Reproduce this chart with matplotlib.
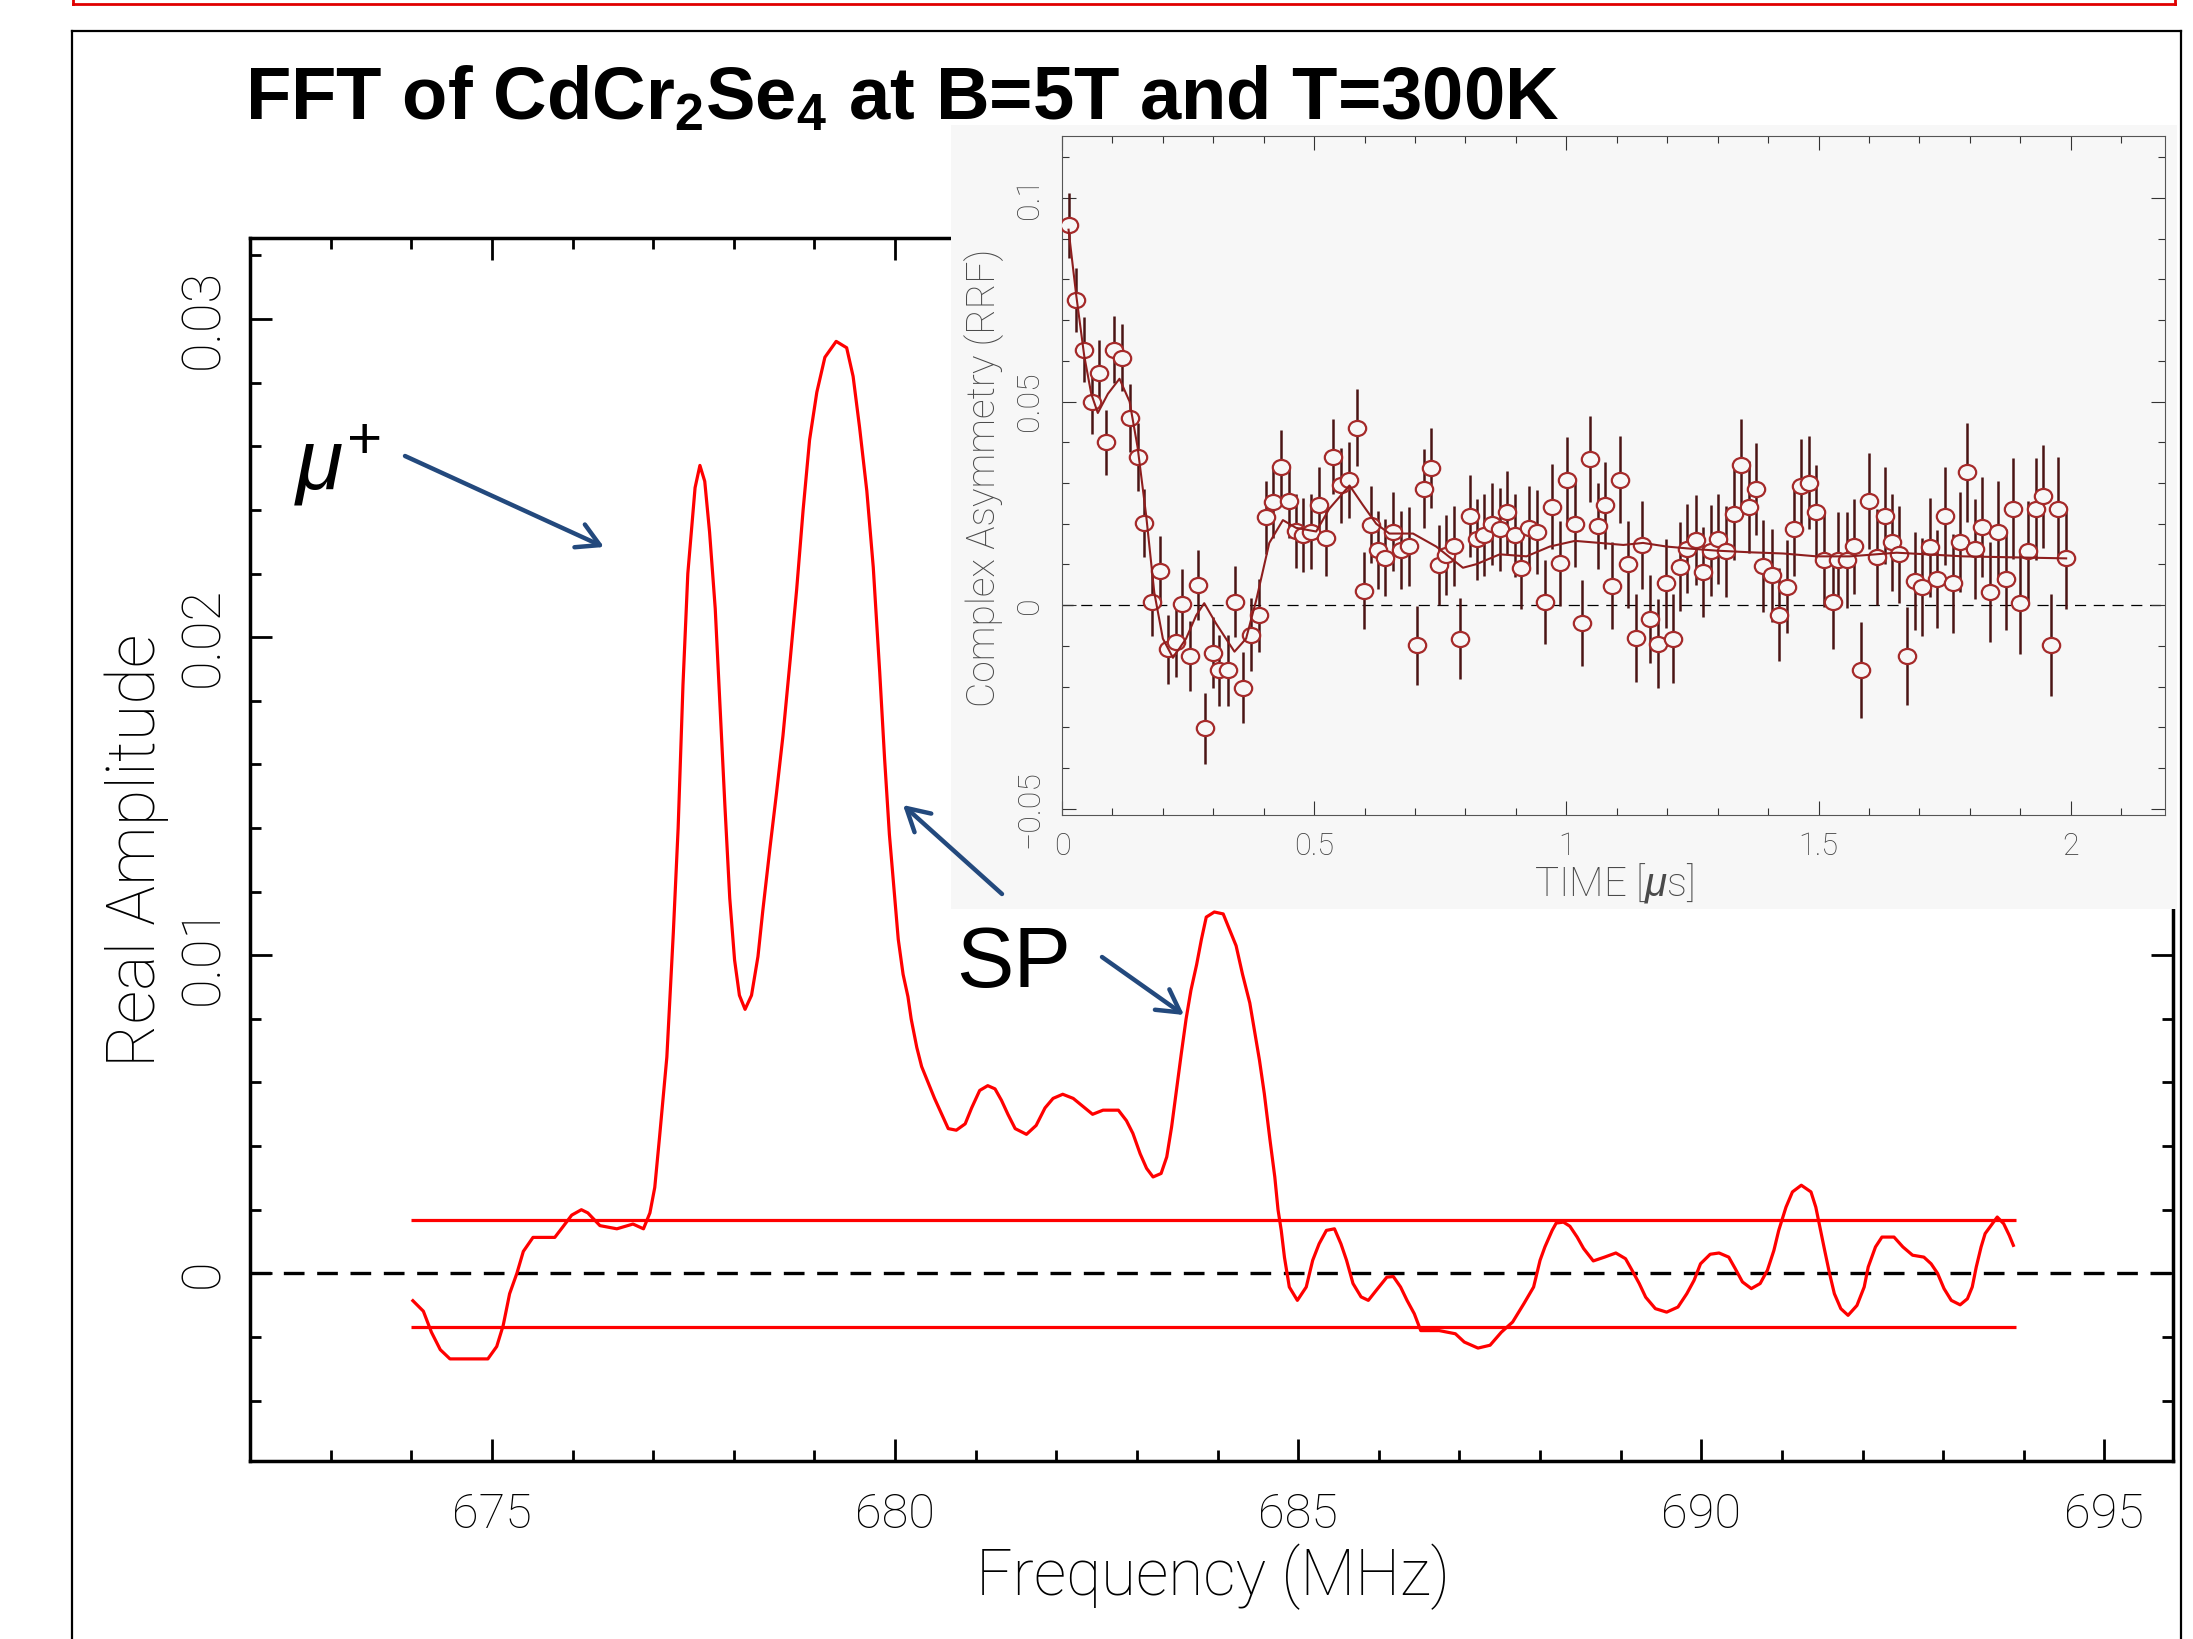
import matplotlib.pyplot as plt
from matplotlib.lines import Line2D
from matplotlib.patches import FancyArrowPatch
from matplotlib.path import Path
from matplotlib.transforms import Affine2D
from matplotlib.ticker import MultipleLocator

# ---- main FFT spectrum (frequency in MHz, real amplitude) ----
freq = [674.02, 674.15, 674.25, 674.36, 674.48, 674.73, 674.95, 675.06, 675.14, 675.22,
        675.31, 675.39, 675.51, 675.78, 675.88, 675.99, 676.11, 676.19, 676.34, 676.55,
        676.75, 676.88, 676.96, 677.02, 677.08, 677.17, 677.25, 677.31, 677.37, 677.43,
        677.52, 677.58, 677.64, 677.70, 677.77, 677.83, 677.89, 677.95, 678.01, 678.07,
        678.14, 678.22, 678.30, 678.36, 678.45, 678.53, 678.61, 678.70, 678.78, 678.86,
        678.94, 679.03, 679.13, 679.27, 679.40, 679.48, 679.56, 679.65, 679.73, 679.81,
        679.87, 679.93, 680.04, 680.10, 680.16, 680.20, 680.27, 680.33, 680.41, 680.49,
        680.58, 680.66, 680.76, 680.87, 680.95, 681.05, 681.15, 681.24, 681.32, 681.40,
        681.49, 681.63, 681.75, 681.86, 681.96, 682.08, 682.21, 682.33, 682.45, 682.58,
        682.77, 682.87, 682.95, 683.04, 683.12, 683.20, 683.30, 683.37, 683.43, 683.49,
        683.55, 683.61, 683.67, 683.74, 683.80, 683.86, 683.96, 684.07, 684.15, 684.23,
        684.31, 684.40, 684.46, 684.52, 684.58, 684.65, 684.71, 684.75, 684.79, 684.83,
        684.89, 684.99, 685.10, 685.18, 685.26, 685.35, 685.45, 685.53, 685.60, 685.68,
        685.78, 685.87, 685.97, 686.10, 686.18, 686.27, 686.35, 686.44, 686.52, 686.75,
        686.95, 687.06, 687.23, 687.38, 687.52, 687.66, 687.80, 687.92, 688.00, 688.06,
        688.15, 688.20, 688.29, 688.37, 688.46, 688.54, 688.66, 688.80, 688.94, 689.06,
        689.14, 689.23, 689.31, 689.43, 689.57, 689.71, 689.82, 689.91, 689.99, 690.11,
        690.22, 690.34, 690.42, 690.51, 690.62, 690.73, 690.82, 690.90, 690.96, 691.05,
        691.13, 691.24, 691.36, 691.42, 691.47, 691.53, 691.59, 691.65, 691.73, 691.82,
        691.93, 692.02, 692.07, 692.16, 692.24, 692.39, 692.50, 692.62, 692.76, 692.85,
        692.93, 693.01, 693.10, 693.21, 693.30, 693.36, 693.41, 693.47, 693.52, 693.61,
        693.67, 693.75, 693.82, 693.87]
amp = [-0.00086, -0.00119, -0.00185, -0.00240, -0.00269, -0.00269, -0.00269, -0.00230, -0.00164, -0.00064,
       0.00000, 0.00069, 0.00113, 0.00113, 0.00146, 0.00183, 0.00200, 0.00190, 0.00150, 0.00140,
       0.00155, 0.00140, 0.00190, 0.00270, 0.00430, 0.00680, 0.01070, 0.01400, 0.01850, 0.02200,
       0.02470, 0.02540, 0.02490, 0.02330, 0.02090, 0.01780, 0.01470, 0.01180, 0.00985, 0.00874,
       0.00830, 0.00874, 0.00996, 0.01140, 0.01340, 0.01510, 0.01690, 0.01930, 0.02150, 0.02400,
       0.02620, 0.02770, 0.02880, 0.02930, 0.02910, 0.02820, 0.02660, 0.02460, 0.02220, 0.01890,
       0.01620, 0.01380, 0.01050, 0.00940, 0.00870, 0.00800, 0.00710, 0.00650, 0.00600, 0.00550,
       0.00500, 0.00455, 0.00450, 0.00470, 0.00520, 0.00575, 0.00590, 0.00580, 0.00544, 0.00500,
       0.00455, 0.00437, 0.00465, 0.00520, 0.00550, 0.00563, 0.00550, 0.00525, 0.00500, 0.00513,
       0.00513, 0.00480, 0.00440, 0.00376, 0.00330, 0.00303, 0.00314, 0.00366, 0.00460, 0.00575,
       0.00690, 0.00800, 0.00890, 0.00970, 0.01050, 0.01120, 0.01136, 0.01130, 0.01080, 0.01030,
       0.00940, 0.00850, 0.00760, 0.00670, 0.00565, 0.00420, 0.00303, 0.00200, 0.00135, 0.00050,
       -0.00043, -0.00085, -0.00043, 0.00041, 0.00093, 0.00135, 0.00140, 0.00093, 0.00041, -0.00032,
       -0.00074, -0.00085, -0.00053, -0.00012, -0.00010, -0.00043, -0.00085, -0.00127, -0.00180, -0.00180,
       -0.00190, -0.00216, -0.00235, -0.00226, -0.00185, -0.00153, -0.00095, -0.00043, 0.00041, 0.00083,
       0.00135, 0.00158, 0.00161, 0.00148, 0.00114, 0.00078, 0.00039, 0.00051, 0.00064, 0.00046,
       0.00010, -0.00032, -0.00075, -0.00111, -0.00122, -0.00106, -0.00064, -0.00022, 0.00030, 0.00060,
       0.00064, 0.00051, 0.00015, -0.00027, -0.00048, -0.00032, 0.00010, 0.00072, 0.00135, 0.00208,
       0.00256, 0.00277, 0.00256, 0.00208, 0.00146, 0.00072, 0.00000, -0.00064, -0.00111, -0.00132,
       -0.00101, -0.00043, 0.00020, 0.00083, 0.00114, 0.00114, 0.00083, 0.00057, 0.00051, 0.00030,
       0.00000, -0.00048, -0.00085, -0.00099, -0.00080, -0.00043, 0.00020, 0.00083, 0.00125, 0.00156,
       0.00177, 0.00156, 0.00119, 0.00088]

band_level = 0.00168
band_start, band_end = 674.0, 693.9

freq_ticks = [675, 680, 685, 690, 695]
freq_ticklabels = ['675', '680', '685', '690', '695']
amp_ticks = [0, 0.01, 0.02, 0.03]
amp_ticklabels = ['0', '0.01', '0.02', '0.03']

# ---- inset: time-domain asymmetry (RRF) ----
time_us = [0.013, 0.028, 0.044, 0.060, 0.074, 0.087, 0.104, 0.119, 0.134, 0.150,
           0.163, 0.179, 0.194, 0.210, 0.226, 0.238, 0.253, 0.269, 0.284, 0.299,
           0.312, 0.329, 0.344, 0.358, 0.374, 0.390, 0.405, 0.418, 0.434, 0.450,
           0.463, 0.477, 0.494, 0.509, 0.524, 0.538, 0.553, 0.569, 0.584, 0.598,
           0.613, 0.626, 0.641, 0.657, 0.673, 0.689, 0.704, 0.717, 0.732, 0.747,
           0.762, 0.778, 0.790, 0.809, 0.823, 0.836, 0.852, 0.868, 0.883, 0.898,
           0.911, 0.926, 0.942, 0.957, 0.972, 0.988, 1.002, 1.017, 1.032, 1.046,
           1.062, 1.076, 1.091, 1.107, 1.123, 1.138, 1.151, 1.165, 1.182, 1.197,
           1.212, 1.226, 1.240, 1.257, 1.271, 1.286, 1.301, 1.316, 1.332, 1.347,
           1.362, 1.376, 1.390, 1.407, 1.422, 1.437, 1.451, 1.466, 1.482, 1.496,
           1.511, 1.528, 1.539, 1.556, 1.570, 1.585, 1.600, 1.616, 1.632, 1.646,
           1.660, 1.676, 1.691, 1.706, 1.721, 1.735, 1.751, 1.766, 1.780, 1.795,
           1.810, 1.825, 1.841, 1.856, 1.871, 1.886, 1.900, 1.916, 1.931, 1.945,
           1.960, 1.975, 1.990]
asym = [0.0933, 0.0750, 0.0627, 0.0500, 0.0570, 0.0400, 0.0627, 0.0608, 0.0460, 0.0364,
        0.0202, 0.0009, 0.0084, -0.0108, -0.0091, 0.0003, -0.0124, 0.0050, -0.0302, -0.0117,
        -0.0160, -0.0160, 0.0009, -0.0202, -0.0072, -0.0025, 0.0216, 0.0254, 0.0340, 0.0256,
        0.0183, 0.0172, 0.0181, 0.0247, 0.0164, 0.0364, 0.0294, 0.0308, 0.0436, 0.0036,
        0.0198, 0.0136, 0.0117, 0.0181, 0.0136, 0.0145, -0.0098, 0.0286, 0.0336, 0.0098,
        0.0123, 0.0145, -0.0082, 0.0219, 0.0162, 0.0172, 0.0200, 0.0186, 0.0228, 0.0172,
        0.0092, 0.0190, 0.0179, 0.0008, 0.0242, 0.0103, 0.0308, 0.0200, -0.0044, 0.0359,
        0.0195, 0.0245, 0.0048, 0.0308, 0.0101, -0.0080, 0.0148, -0.0033, -0.0094, 0.0054,
        -0.0082, 0.0095, 0.0139, 0.0160, 0.0081, 0.0134, 0.0162, 0.0132, 0.0223, 0.0345,
        0.0242, 0.0286, 0.0097, 0.0073, -0.0023, 0.0045, 0.0186, 0.0292, 0.0301, 0.0228,
        0.0111, 0.0008, 0.0111, 0.0111, 0.0145, -0.0160, 0.0256, 0.0118, 0.0220, 0.0155,
        0.0125, -0.0124, 0.0059, 0.0045, 0.0142, 0.0064, 0.0219, 0.0054, 0.0155, 0.0326,
        0.0139, 0.0192, 0.0033, 0.0181, 0.0064, 0.0237, 0.0005, 0.0132, 0.0237, 0.0267,
        -0.0098, 0.0237, 0.0117]
asym_err = [0.0080, 0.0078, 0.0080, 0.0080, 0.0081, 0.0080, 0.0082, 0.0082, 0.0083, 0.0083,
            0.0084, 0.0084, 0.0085, 0.0085, 0.0085, 0.0086, 0.0086, 0.0086, 0.0087, 0.0087,
            0.0087, 0.0088, 0.0088, 0.0088, 0.0089, 0.0089, 0.0089, 0.0090, 0.0090, 0.0090,
            0.0091, 0.0091, 0.0091, 0.0092, 0.0092, 0.0092, 0.0093, 0.0093, 0.0094, 0.0094,
            0.0095, 0.0095, 0.0095, 0.0096, 0.0096, 0.0097, 0.0097, 0.0097, 0.0098, 0.0098,
            0.0099, 0.0099, 0.0100, 0.0100, 0.0100, 0.0101, 0.0101, 0.0101, 0.0102, 0.0102,
            0.0102, 0.0103, 0.0103, 0.0103, 0.0104, 0.0104, 0.0104, 0.0105, 0.0105, 0.0106,
            0.0106, 0.0106, 0.0107, 0.0107, 0.0107, 0.0108, 0.0108, 0.0108, 0.0109, 0.0109,
            0.0109, 0.0110, 0.0110, 0.0110, 0.0111, 0.0111, 0.0111, 0.0112, 0.0112, 0.0112,
            0.0113, 0.0113, 0.0113, 0.0114, 0.0114, 0.0114, 0.0115, 0.0115, 0.0115, 0.0116,
            0.0116, 0.0116, 0.0117, 0.0117, 0.0117, 0.0118, 0.0118, 0.0118, 0.0119, 0.0119,
            0.0119, 0.0120, 0.0120, 0.0120, 0.0121, 0.0121, 0.0121, 0.0122, 0.0122, 0.0122,
            0.0123, 0.0123, 0.0123, 0.0124, 0.0124, 0.0124, 0.0125, 0.0125, 0.0125, 0.0126,
            0.0126, 0.0126, 0.0127]
fit_t = [0.013, 0.028, 0.044, 0.058, 0.071, 0.091, 0.114, 0.134, 0.150, 0.167,
         0.183, 0.200, 0.220, 0.246, 0.266, 0.282, 0.305, 0.342, 0.365, 0.385,
         0.411, 0.438, 0.464, 0.504, 0.530, 0.570, 0.596, 0.623, 0.649, 0.696,
         0.742, 0.795, 0.822, 0.868, 0.921, 0.967, 1.017, 1.066, 1.113, 1.152,
         1.199, 1.245, 1.298, 1.364, 1.430, 1.496, 1.562, 1.655, 1.787, 1.991]
fit_a = [0.0922, 0.0763, 0.0613, 0.0519, 0.0472, 0.0519, 0.0556, 0.0500, 0.0387, 0.0219,
         0.0031, -0.0082, -0.0129, -0.0082, -0.0025, 0.0005, -0.0044, -0.0114, -0.0082, 0.0012,
         0.0153, 0.0209, 0.0190, 0.0181, 0.0237, 0.0294, 0.0247, 0.0200, 0.0176, 0.0176,
         0.0144, 0.0092, 0.0101, 0.0125, 0.0120, 0.0144, 0.0158, 0.0153, 0.0148, 0.0153,
         0.0144, 0.0139, 0.0134, 0.0130, 0.0127, 0.0120, 0.0120, 0.0129, 0.0120, 0.0115]

time_ticks = [0, 0.5, 1, 1.5, 2]
time_ticklabels = ['0', '0.5', '1', '1.5', '2']
asym_ticks = [-0.05, 0, 0.05, 0.1]
asym_ticklabels = ['\u22120.05', '0', '0.05', '0.1']

# ---- styling ----
plt.rcParams['font.family'] = ['Roboto', 'DejaVu Sans']
plt.rcParams['font.weight'] = 'light'
plt.rcParams['lines.scale_dashes'] = False
plt.rcParams['mathtext.fontset'] = 'custom'
plt.rcParams['mathtext.rm'] = 'Liberation Sans'
plt.rcParams['mathtext.it'] = 'Liberation Sans:italic'
plt.rcParams['mathtext.bf'] = 'Liberation Sans:bold'

W, H = 2193, 1639
fig = plt.figure(figsize=(W / 100, H / 100), dpi=100)
fig.patch.set_facecolor('white')


def fx(px):
    return px / W


def fy(py):
    return 1 - py / H


def rect(left, top, right, bottom):
    return [fx(left), fy(bottom), fx(right) - fx(left), fy(top) - fy(bottom)]


# main axes
ax = fig.add_axes(rect(250, 238, 2173, 1461))
ax.plot(freq, amp, color='red', lw=2.3, zorder=3)
ax.hlines([band_level, -band_level], band_start, band_end, color='red', lw=2.3, zorder=3)
ax.axhline(0, color='black', lw=2.4, dashes=(14.9, 9.1), zorder=2)
ax.set_xlim(672, 695.85)
ax.set_ylim(-0.0059, 0.03255)
ax.set_xticks(freq_ticks)
ax.set_xticklabels(freq_ticklabels)
ax.set_yticks(amp_ticks)
ax.set_yticklabels(amp_ticklabels, rotation=90, va='center')
ax.xaxis.set_minor_locator(MultipleLocator(1))
ax.yaxis.set_minor_locator(MultipleLocator(0.002))
ax.tick_params(which='both', direction='in', top=True, right=True, width=2, color='black')
ax.tick_params(which='major', length=16)
ax.tick_params(which='minor', length=8)
ax.tick_params(axis='x', pad=22, labelsize=35)
ax.tick_params(axis='y', pad=15, labelsize=39)
for sp in ax.spines.values():
    sp.set_linewidth(2.5)

# inset background panel
bg = fig.add_axes(rect(951, 125, 2177, 909))
bg.set_facecolor('#F7F7F7')
bg.set_xticks([])
bg.set_yticks([])
for sp in bg.spines.values():
    sp.set_visible(False)

# slightly widened open circle, as in the stretched inset picture
oval = Path.unit_circle().transformed(Affine2D().scale(1.15, 1.0))

# inset axes
ins = fig.add_axes(rect(1062, 136, 2165, 815))
ins.set_facecolor('#F7F7F7')
ins.axhline(0, color='black', lw=0.9, dashes=(8, 5.5), zorder=1)
ins.errorbar(time_us, asym, yerr=asym_err, fmt='none', ecolor='#4A1414', elinewidth=1.8,
             capsize=0, zorder=2)
ins.plot(time_us, asym, linestyle='none', marker=oval, mfc='#F7F7F7', mec='#A52A2A',
         ms=12.5, mew=1.6, zorder=3)
ins.plot(fit_t, fit_a, color='#8E1E1E', lw=1.5, zorder=4)
ins.set_xlim(0, 2.187)
ins.set_ylim(-0.0515, 0.1152)
ins.set_xticks(time_ticks)
ins.set_xticklabels(time_ticklabels)
ins.set_yticks(asym_ticks)
ins.set_yticklabels(asym_ticklabels, rotation=90, va='center')
ins.xaxis.set_minor_locator(MultipleLocator(0.1))
ins.yaxis.set_minor_locator(MultipleLocator(0.01))
ins.tick_params(which='both', direction='in', top=True, right=True, width=0.8,
                color='#333333', labelcolor='#404040')
ins.tick_params(which='major', length=10)
ins.tick_params(which='minor', length=5)
ins.tick_params(axis='x', pad=12, labelsize=22)
ins.tick_params(axis='y', pad=13, labelsize=23)
for sp in ins.spines.values():
    sp.set_linewidth(0.8)
    sp.set_color('#555555')

# axis labels
fig.text(fx(137), fy(850), 'Real Amplitude', rotation=90, ha='center', va='center', fontsize=48)
fig.text(fx(1213), fy(1577), 'Frequency (MHz)', ha='center', va='center', fontsize=46)
fig.text(fx(984), fy(478), 'Complex Asymmetry (RRF)', rotation=90, ha='center', va='center',
         fontsize=28, color='#4A4A4A')
fig.text(fx(1614), fy(883), r'TIME [$\mu$s]', ha='center', va='center', fontsize=29,
         color='#4A4A4A')

# title and annotations
fig.text(fx(245), fy(119), r'FFT of CdCr$_\mathbf{2}$Se$_\mathbf{4}$ at B=5T and T=300K',
         family='Liberation Sans', weight='bold', fontsize=53.5, ha='left', va='baseline')
fig.text(fx(294), fy(489), r'$\mu^{+}$', fontsize=62, ha='left', va='baseline')
fig.text(fx(956), fy(987), 'SP', family='Liberation Sans', weight='normal', fontsize=62,
         ha='left', va='baseline')

arrow_color = '#23497D'
for (x0, y0), (x1, y1) in [((405, 456), (604, 547)),
                           ((1002, 894), (903, 805)),
                           ((1102, 957), (1184, 1015))]:
    fig.add_artist(FancyArrowPatch((fx(x0), fy(y0)), (fx(x1), fy(y1)),
                                   transform=fig.transFigure,
                                   arrowstyle='->,head_length=0.8,head_width=0.45',
                                   mutation_scale=20, lw=3.2, color=arrow_color,
                                   shrinkA=0, shrinkB=0))

# slide frame lines
fig.add_artist(Line2D([fx(72), fx(72)], [fy(31), fy(H)], color='black', lw=1.6))
fig.add_artist(Line2D([fx(72), fx(2181)], [fy(31), fy(31)], color='black', lw=1.6))
fig.add_artist(Line2D([fx(2181), fx(2181)], [fy(31), fy(H)], color='black', lw=1.6))
fig.add_artist(Line2D([fx(73), fx(2175)], [fy(4), fy(4)], color='#E00000', lw=2))
fig.add_artist(Line2D([fx(73), fx(73)], [fy(0), fy(4)], color='#E00000', lw=2))
fig.add_artist(Line2D([fx(2175), fx(2175)], [fy(0), fy(4)], color='#E00000', lw=2))

fig.savefig('out.png', dpi=100)
